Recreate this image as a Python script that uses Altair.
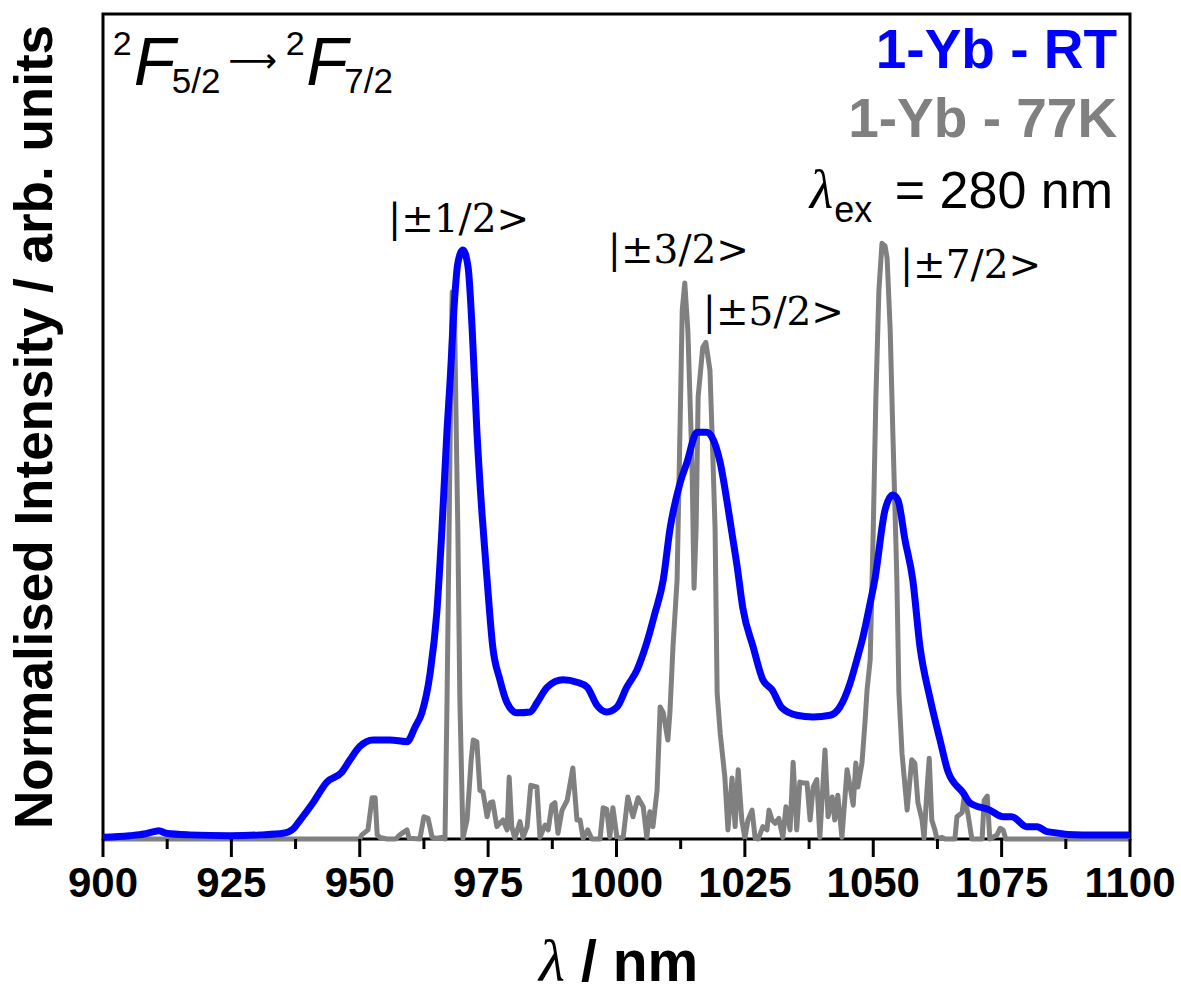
import altair as alt
import pandas as pd

# ---------------- data ----------------
rt_nm = [900.0, 905.1, 908.0, 909.9, 910.9, 912.3, 916.9, 924.7, 930.6, 935.1, 937.0, 938.4,
         940.9, 943.6, 946.5, 948.1, 950.0, 952.6, 955.9, 959.2, 960.8, 962.1, 963.7, 965.0,
         966.0, 967.0, 967.6, 968.5, 969.1, 970.1, 971.1, 971.9, 972.8, 973.8, 974.8, 975.9,
         977.3, 978.7, 980.6, 983.2, 984.5, 986.5, 989.6, 992.3, 994.3, 996.2, 998.1, 1000.1,
         1002.0, 1004.0, 1005.9, 1007.5, 1009.1, 1010.4, 1012.4, 1013.7, 1015.7, 1017.6, 1018.6,
         1020.2, 1021.5, 1022.5, 1023.5, 1024.6, 1026.6, 1028.5, 1030.3, 1032.2, 1035.1, 1038.3,
         1041.6, 1043.5, 1045.5, 1046.8, 1048.0, 1049.4, 1050.3, 1052.3, 1053.8, 1054.8, 1056.2,
         1057.7, 1059.1, 1061.0, 1063.0, 1064.6, 1067.5, 1068.8, 1072.7, 1075.3, 1077.0, 1079.9,
         1081.9, 1083.8, 1090.8, 1100.0]
rt_int = [0.002, 0.004, 0.006, 0.009, 0.010, 0.007, 0.005, 0.004, 0.005, 0.007, 0.012, 0.023,
          0.044, 0.069, 0.081, 0.096, 0.112, 0.120, 0.120, 0.118, 0.136, 0.153, 0.201, 0.274,
          0.375, 0.496, 0.556, 0.657, 0.698, 0.714, 0.693, 0.617, 0.496, 0.395, 0.314, 0.233,
          0.193, 0.165, 0.153, 0.154, 0.165, 0.184, 0.193, 0.190, 0.184, 0.162, 0.154, 0.160,
          0.184, 0.205, 0.238, 0.274, 0.314, 0.375, 0.432, 0.456, 0.493, 0.493, 0.487,
          0.456, 0.410, 0.370, 0.330, 0.280, 0.233, 0.193, 0.181, 0.159, 0.150, 0.148,
          0.150, 0.160, 0.189, 0.217, 0.245, 0.286, 0.314, 0.399, 0.417, 0.411, 0.362,
          0.314, 0.233, 0.172, 0.120, 0.081, 0.056, 0.044, 0.035, 0.027, 0.027, 0.015,
          0.015, 0.009, 0.005, 0.005]

k77_nm = [900.0, 950.0, 950.4, 951.6, 952.4, 953.0, 953.4, 953.9, 955.3, 957.0, 957.8, 959.2,
          959.6, 961.7, 962.5, 963.3, 964.1, 965.0, 966.0, 966.6, 967.0, 967.4, 967.8, 968.0,
          968.4, 968.7, 969.1, 969.5, 970.1, 970.9, 971.7, 972.1, 972.8, 973.4, 974.0, 974.8,
          975.4, 975.9, 976.7, 977.3, 977.9, 978.7, 979.1, 979.6, 980.2, 981.2, 981.8, 982.6,
          983.3, 984.5, 985.1, 986.1, 986.7, 987.4, 988.0, 988.6, 989.4, 990.4, 991.5, 992.3,
          992.9, 993.5, 994.4, 995.2, 996.8, 997.4, 998.1, 998.7, 999.3, 1000.1, 1001.3, 1002.2,
          1003.2, 1004.2, 1005.2, 1005.9, 1006.5, 1007.1, 1007.9, 1008.5, 1009.1, 1010.0, 1010.4,
          1011.0, 1011.8, 1012.4, 1012.8, 1013.3, 1013.9, 1014.7, 1015.1, 1015.5, 1015.9, 1016.8,
          1017.4, 1018.2, 1018.8, 1019.2, 1019.6, 1020.2, 1021.1, 1021.7, 1022.5, 1023.1, 1023.7,
          1024.4, 1025.0, 1025.6, 1026.4, 1027.0, 1027.6, 1028.5, 1029.3, 1029.7, 1030.3, 1030.9,
          1031.6, 1032.4, 1033.0, 1033.8, 1034.4, 1035.1, 1035.7, 1036.3, 1037.1, 1037.7, 1038.3,
          1039.0, 1039.6, 1040.6, 1041.2, 1042.0, 1042.5, 1043.1, 1043.9, 1044.9, 1045.5, 1046.1,
          1046.6, 1047.0, 1047.8, 1048.4, 1048.8, 1049.4, 1050.0, 1050.5, 1051.1, 1051.7, 1052.3,
          1052.7, 1053.3, 1053.8, 1054.4, 1054.6, 1055.0, 1055.6, 1056.6, 1057.5, 1058.1, 1058.7,
          1059.5, 1059.9, 1060.5, 1060.9, 1061.4, 1062.0, 1062.4, 1063.4, 1064.0, 1065.9, 1066.3,
          1067.3, 1067.7, 1068.4, 1069.2, 1071.2, 1071.6, 1072.2, 1072.7, 1074.1, 1074.7, 1075.3,
          1075.8, 1100.0]
k77_int = [0.0, 0.0, 0.005, 0.011, 0.050, 0.050, 0.005, 0.002, 0.0, 0.0, 0.005, 0.011,
           0.001, 0.0, 0.027, 0.025, 0.002, 0.001, 0.002, 0.0, 0.168, 0.375, 0.593, 0.663,
           0.659, 0.532, 0.375, 0.168, 0.001, 0.023, 0.096, 0.120, 0.118, 0.059, 0.057, 0.027,
           0.044, 0.045, 0.015, 0.019, 0.023, 0.011, 0.075, 0.015, 0.001, 0.021, 0.002, 0.015,
           0.065, 0.063, 0.002, 0.017, 0.011, 0.041, 0.044, 0.007, 0.035, 0.047, 0.086, 0.023,
           0.023, 0.001, 0.011, 0.0, 0.0, 0.038, 0.036, 0.002, 0.038, 0.001, 0.002, 0.051,
           0.027, 0.050, 0.039, 0.002, 0.033, 0.015, 0.059, 0.160, 0.153, 0.120, 0.153,
           0.233, 0.314, 0.508, 0.641, 0.674, 0.616, 0.456, 0.304, 0.375, 0.536, 0.596,
           0.602, 0.568, 0.456, 0.375, 0.177, 0.128, 0.075, 0.011, 0.074, 0.015, 0.084,
           0.023, 0.001, 0.023, 0.035, 0.001, 0.0, 0.015, 0.011, 0.035, 0.023, 0.019,
           0.025, 0.002, 0.039, 0.011, 0.093, 0.011, 0.069, 0.068, 0.068, 0.023, 0.063,
           0.072, 0.002, 0.108, 0.027, 0.051, 0.023, 0.053, 0.002, 0.084, 0.063, 0.041,
           0.092, 0.063, 0.092, 0.142, 0.181, 0.217, 0.375, 0.532, 0.665, 0.722, 0.719,
           0.704, 0.617, 0.496, 0.362, 0.314, 0.177, 0.104, 0.035, 0.096, 0.092, 0.044,
           0.023, 0.001, 0.063, 0.098, 0.023, 0.011, 0.0, 0.002, 0.0, 0.0, 0.027,
           0.032, 0.051, 0.032, 0.0, 0.0, 0.047, 0.052, 0.0, 0.005, 0.013, 0.011,
           0.0, 0.0]

major_ticks = [900, 925, 950, 975, 1000, 1025, 1050, 1075, 1100]
minor_ticks = [912.5, 937.5, 962.5, 987.5, 1012.5, 1037.5, 1062.5, 1087.5]
tick_labels = ["900", "925", "950", "975", "1000", "1025", "1050", "1075", "1100"]

peak_labels = ["|\u00b11/2>", "|\u00b13/2>", "|\u00b15/2>", "|\u00b17/2>"]
peak_label_nm = [955.5, 998.3, 1016.8, 1055.2]
peak_label_int = [0.736, 0.698, 0.623, 0.680]

legend_texts = ["1-Yb - RT", "1-Yb - 77K"]
legend_colors = ["#0000FF", "#808080"]
legend_int = [0.935, 0.851]

SANS = "Liberation Sans"
SERIF = "Liberation Serif"
PLOT_W, PLOT_H = 1027, 825

xs = alt.Scale(domain=[900, 1100], nice=False, zero=False)
ys = alt.Scale(domain=[0, 1], nice=False, zero=False)

y_axis = alt.Axis(
    title="Normalised Intensity / arb. units", titleFont=SANS, titleFontSize=53,
    titleFontWeight="bold", titleColor="black", titlePadding=41,
    labels=False, ticks=False, domain=False, grid=False,
)

Y = alt.Y("v:Q", scale=ys, axis=y_axis)
X = alt.X("nm:Q", scale=xs, axis=None)

df77 = pd.DataFrame({"nm": k77_nm, "v": k77_int})
dfrt = pd.DataFrame({"nm": rt_nm, "v": rt_int})

gray = alt.Chart(df77).mark_line(color="#808080", strokeWidth=5, strokeJoin="round").encode(
    x=X, y=Y)
blue = alt.Chart(dfrt).mark_line(color="#0000FF", strokeWidth=7, strokeJoin="round",
                                 interpolate="monotone").encode(x=X, y=Y)

# x axis drawn by hand: ticks and labels placed through the x scale
major_rules = alt.Chart(pd.DataFrame({"nm": major_ticks})).mark_rule(
    color="black", strokeWidth=3).encode(
    x=X, y=alt.value(PLOT_H), y2=alt.value(PLOT_H + 18))
minor_rules = alt.Chart(pd.DataFrame({"nm": minor_ticks})).mark_rule(
    color="black", strokeWidth=3).encode(
    x=X, y=alt.value(PLOT_H), y2=alt.value(PLOT_H + 10))
tick_text = alt.Chart(pd.DataFrame({"nm": major_ticks, "t": tick_labels})).mark_text(
    font=SANS, fontSize=42, fontWeight="bold", color="black", align="center",
    baseline="top").encode(x=X, y=alt.value(PLOT_H + 25), text="t:N")


def label(text, nm, v, size, align="left", font=SANS, style="normal", weight="normal",
          color="black"):
    d = pd.DataFrame({"nm": [nm], "v": [v], "t": [text]})
    return alt.Chart(d).mark_text(
        align=align, baseline="alphabetic", font=font, fontSize=size, fontStyle=style,
        fontWeight=weight, color=color,
    ).encode(x=X, y=Y, text="t:N")


def pixel_text(text, px, py, size, font=SANS, style="normal", weight="normal"):
    d = pd.DataFrame({"t": [text]})
    return alt.Chart(d).mark_text(
        align="left", baseline="alphabetic", font=font, fontSize=size, fontStyle=style,
        fontWeight=weight, color="black",
    ).encode(x=alt.value(px), y=alt.value(py), text="t:N")


layers = [gray, blue, major_rules, minor_rules, tick_text]

# transition label, top left
layers += [
    label("2", 901.9, 0.950, 34),
    label("F", 906.0, 0.914, 68, style="italic"),
    label("5/2", 913.4, 0.904, 35),
    label("\u27f6", 924.4, 0.930, 34, font="DejaVu Sans"),
    label("2", 935.6, 0.950, 34),
    label("F", 939.6, 0.914, 68, style="italic"),
    label("7/2", 947.0, 0.904, 35),
]

# legend-like texts, top right
for t, c, v in zip(legend_texts, legend_colors, legend_int):
    layers.append(label(t, 1097.5, v, 55, align="right", weight="bold", color=c))
layers += [
    label("= 280 nm", 1096.7, 0.765, 52, align="right"),
    label("ex", 1049.8, 0.748, 36, align="right"),
    label("\u03bb", 1042.2, 0.765, 54, align="right", font=SERIF, style="italic"),
]

# peak labels
for t, nm, v in zip(peak_labels, peak_label_nm, peak_label_int):
    layers.append(label(t, nm, v, 39, font="DejaVu Serif"))

# x axis title pieces (outside plot area)
layers += [
    pixel_text("\u03bb", 436, 967, 60, font=SERIF, style="italic"),
    pixel_text("/ nm", 478, 967, 57, weight="bold"),
]

chart = alt.layer(*layers).properties(
    width=PLOT_W, height=PLOT_H,
    autosize=alt.AutoSizeParams(type="none"),
    padding={"left": 103, "top": 14, "right": 51, "bottom": 154},
    background="white",
).configure_view(stroke="black", strokeWidth=3)

chart.save("out.html", embed_options={"renderer": "svg", "actions": False})
